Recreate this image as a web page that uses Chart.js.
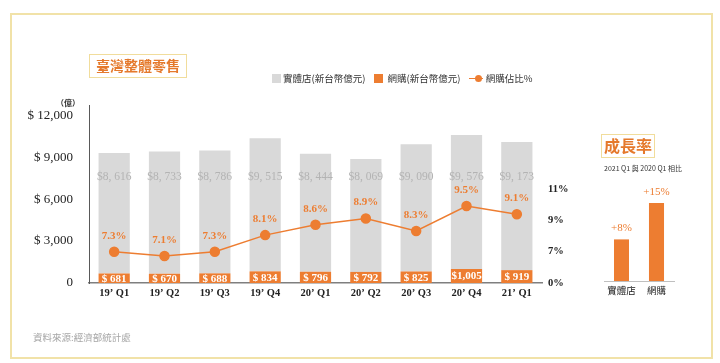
<!DOCTYPE html>
<html>
<head>
<meta charset="utf-8">
<script src="https://cdn.jsdelivr.net/npm/chart.js@4/dist/chart.umd.min.js"></script>
<style>
  body { margin: 0; background: #fff; width: 720px; height: 363px; overflow: hidden; position: relative; font-family: "Liberation Serif", serif; }
  #frame { position: absolute; left: 10px; top: 13px; width: 699px; height: 342px; border: 2px solid #f1e2a8; }
  .tbox { position: absolute; border: 1.5px solid #f1dd9c; color: #e5792c; font-family: "Noto Sans CJK TC", sans-serif; font-weight: bold; text-align: center; box-sizing: border-box; }
  #title { left: 89px; top: 54px; width: 98px; height: 24px; font-size: 14px; line-height: 21px; letter-spacing: 0px; }
  #growthTitle { left: 601px; top: 134px; width: 54px; height: 24px; font-size: 16px; line-height: 21px; }
  #legend { position: absolute; left: 272px; top: 70px; font-family: "Noto Sans CJK TC", sans-serif; font-size: 9.5px; color: #333; white-space: nowrap; }
  #legend span { display: inline-block; vertical-align: middle; }
  .sw { width: 9px; height: 9px; margin-right: 2px; }
  .unit { position: absolute; left: 56px; top: 97px; font-family: "Noto Sans CJK TC", sans-serif; font-size: 8px; font-weight: bold; color: #333; }
  .sub { position: absolute; left: 604px; top: 163px; font-family: "Noto Sans CJK TC", sans-serif; font-size: 7px; color: #333; white-space: nowrap; }
  .src { position: absolute; left: 33px; top: 330px; font-family: "Noto Sans CJK TC", sans-serif; font-size: 9.5px; color: #a6a6a6; }
  canvas { position: absolute; top: 0; }
</style>
</head>
<body>
<div id="frame"></div>
<canvas id="mainChart" style="left:0" width="590" height="363"></canvas>
<canvas id="growthChart" style="left:590px" width="110" height="363"></canvas>
<div class="tbox" id="title">臺灣整體零售</div>
<div id="legend">
  <span class="sw" style="background:#d9d9d9"></span><span>實體店(新台幣億元)</span>
  <span class="sw" style="background:#ed7d31;margin-left:6px"></span><span style="margin-left:3px">網購(新台幣億元)</span>
  <span style="margin-left:6px;width:14px;height:9px;position:relative">
    <span style="position:absolute;left:0;top:4px;width:14px;height:1.5px;background:#ed7d31"></span>
    <span style="position:absolute;left:6px;top:1px;width:7px;height:7px;border-radius:50%;background:#ed7d31"></span>
  </span><span style="margin-left:3px">網購佔比%</span>
</div>
<div class="unit">（億）</div>
<div class="tbox" id="growthTitle">成長率</div>
<div class="sub">2021 Q1 與 2020 Q1 相比</div>
<div class="src">資料來源:經濟部統計處</div>

<script>
// data
const quarters = ["19’ Q1", "19’ Q2", "19’ Q3", "19’ Q4", "20’ Q1", "20’ Q2", "20’ Q3", "20’ Q4", "21’ Q1"];
const storeSales = [8616, 8733, 8786, 9515, 8444, 8069, 9090, 9576, 9173];
const onlineSales = [681, 670, 688, 834, 796, 792, 825, 1005, 919];
const onlineShare = [7.3, 7.1, 7.3, 8.1, 8.6, 8.9, 8.3, 9.5, 9.1];
const leftTicks = [0, 3000, 6000, 9000, 12000];
const rightTicks = [5, 7, 9, 11];
const rightTickText = { 5: "0%", 7: "7%", 9: "9%", 11: "11%" };

const growthLabels = ["實體店", "網購"];
const growthValues = [8, 15];

const orange = "#ed7d31";
const grey = "#d9d9d9";

function money(v) {
  const s = v.toLocaleString("en-US");
  return v >= 1000 ? "$" + s : "$ " + s;
}

// value labels on the main chart
const mainLabels = {
  id: "mainLabels",
  afterDatasetsDraw(chart) {
    const ctx = chart.ctx;
    ctx.save();
    ctx.textAlign = "center";
    ctx.textBaseline = "middle";
    const lineMeta = chart.getDatasetMeta(0);
    const onlineMeta = chart.getDatasetMeta(1);
    const storeMeta = chart.getDatasetMeta(2);
    storeMeta.data.forEach((bar, i) => {
      ctx.font = "11.5px 'Liberation Serif'";
      ctx.fillStyle = "#b3b3b3";
      ctx.fillText("$" + storeSales[i].toLocaleString("en-US").replace(",", ", "), bar.x, 177);
    });
    onlineMeta.data.forEach((bar, i) => {
      ctx.font = "bold 11px 'Liberation Serif'";
      ctx.fillStyle = "#fff";
      ctx.fillText(money(onlineSales[i]), bar.x, (bar.y + bar.base) / 2 + 0.5);
    });
    lineMeta.data.forEach((pt, i) => {
      ctx.font = "bold 11px 'Liberation Serif'";
      ctx.fillStyle = orange;
      ctx.fillText(onlineShare[i].toFixed(1) + "%", pt.x, pt.y - 16);
    });
    ctx.restore();
  }
};

new Chart(document.getElementById("mainChart"), {
  data: {
    labels: quarters,
    datasets: [
      {
        type: "line",
        label: "網購佔比%",
        data: onlineShare,
        yAxisID: "y1",
        borderColor: orange,
        backgroundColor: orange,
        borderWidth: 1.5,
        pointRadius: 4.5,
        tension: 0,
        order: 0
      },
      {
        type: "bar",
        label: "網購(新台幣億元)",
        data: onlineSales,
        backgroundColor: orange,
        stack: "s",
        order: 1,
        barPercentage: 0.62,
        categoryPercentage: 1
      },
      {
        type: "bar",
        label: "實體店(新台幣億元)",
        data: storeSales,
        backgroundColor: grey,
        stack: "s",
        order: 1,
        barPercentage: 0.62,
        categoryPercentage: 1
      }
    ]
  },
  options: {
    responsive: false,
    animation: false,
    layout: { padding: { top: 105, left: 0, right: 0, bottom: 0 } },
    plugins: {
      legend: { display: false },
      tooltip: { enabled: false }
    },
    scales: {
      x: {
        stacked: true,
        grid: { display: false, drawTicks: false },
        border: { color: "#7f7f7f", width: 1.5 },
        ticks: { color: "#222", font: { family: "Liberation Serif", size: 10.5, weight: "bold" }, padding: 4 },
        afterFit: (s) => { s.height = 80; }
      },
      y: {
        stacked: true,
        min: 0,
        max: 12730,
        position: "left",
        grid: { display: false, drawTicks: false },
        border: { color: "#595959", width: 1 },
        afterBuildTicks: (s) => { s.ticks = leftTicks.map(v => ({ value: v })); },
        ticks: {
          color: "#222",
          padding: 16,
          font: { family: "Liberation Serif", size: 13 },
          callback: (v) => v === 0 ? "0" : "$ " + v.toLocaleString("en-US")
        },
        afterFit: (s) => { s.width = 89; }
      },
      y1: {
        display: false,
        min: 5.8,
        max: 14.35
      },
      y2: {
        position: "right",
        min: 5,
        max: 16.36,
        grid: { display: false, drawTicks: false },
        border: { display: false },
        afterBuildTicks: (s) => { s.ticks = rightTicks.map(v => ({ value: v })); },
        ticks: {
          color: "#222",
          padding: 6,
          font: { family: "Liberation Serif", size: 10.5, weight: "bold" },
          callback: (v) => rightTickText[v]
        },
        afterFit: (s) => { s.width = 48; }
      }
    }
  },
  plugins: [mainLabels]
});

// growth-rate labels
const growthText = {
  id: "growthText",
  afterDatasetsDraw(chart) {
    const ctx = chart.ctx;
    ctx.save();
    ctx.textAlign = "center";
    ctx.textBaseline = "middle";
    ctx.font = "11px 'Liberation Serif'";
    ctx.fillStyle = orange;
    chart.getDatasetMeta(0).data.forEach((bar, i) => {
      ctx.fillText("+" + growthValues[i] + "%", bar.x, bar.y - 11);
    });
    ctx.restore();
  }
};

new Chart(document.getElementById("growthChart"), {
  type: "bar",
  data: {
    labels: growthLabels,
    datasets: [{
      data: growthValues,
      backgroundColor: orange,
      barPercentage: 0.43,
      categoryPercentage: 1
    }]
  },
  options: {
    responsive: false,
    animation: false,
    layout: { padding: { top: 177, left: 14, right: 26, bottom: 0 } },
    plugins: { legend: { display: false }, tooltip: { enabled: false } },
    scales: {
      x: {
        grid: { display: false, drawTicks: false },
        border: { color: "#bfbfbf", width: 1 },
        ticks: { color: "#222", font: { family: "Noto Sans CJK TC", size: 9.5 }, padding: 4 },
        afterFit: (s) => { s.height = 82; }
      },
      y: { display: false, min: 0, max: 20 }
    }
  },
  plugins: [growthText]
});
</script>
</body>
</html>
